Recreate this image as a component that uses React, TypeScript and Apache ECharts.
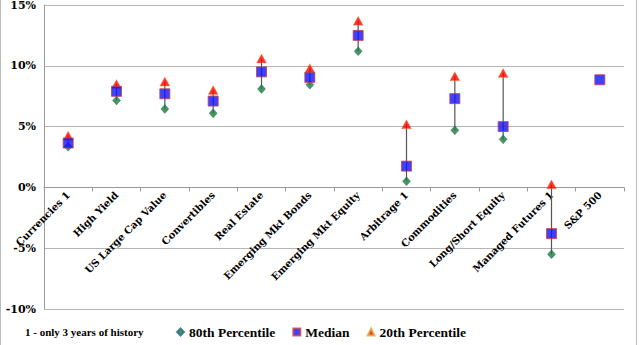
import React, { useEffect, useRef } from "react";
import * as echarts from "echarts";

const categories = [
  "Currencies 1",
  "High Yield",
  "US Large Cap Value",
  "Convertibles",
  "Real Estate",
  "Emerging Mkt Bonds",
  "Emerging Mkt Equity",
  "Arbitrage 1",
  "Commodities",
  "Long/Short Equity",
  "Managed Futures 1",
  "S&P 500",
];
const p80: (number | null)[] = [3.35, 7.15, 6.45, 6.1, 8.1, 8.45, 11.2, 0.5, 4.7, 3.95, -5.5, null];
const median: (number | null)[] = [3.65, 7.9, 7.7, 7.1, 9.5, 9.05, 12.5, 1.75, 7.3, 5.0, -3.8, 8.85];
const p20: (number | null)[] = [4.25, 8.5, 8.7, 8.0, 10.6, 9.8, 13.7, 5.2, 9.15, 9.4, 0.25, null];
const footnote = "1 - only 3 years of history";

const FONT = "DejaVu Serif";
const FONT2 = "Liberation Serif";
const Y_MIN = -10;
const Y_MAX = 15;
const GRID_TOP = 5;
const GRID_BOTTOM = 36;
const H = 345;

export default function App() {
  const ref = useRef<HTMLDivElement>(null);
  useEffect(() => {
    document.body.style.margin = "0";
    const chart = echarts.init(ref.current!, null, { renderer: "svg" });
    const rangeData = categories
      .map((_, i) => [i, p80[i], p20[i]])
      .filter((d) => d[1] != null && d[2] != null);
    const gridH = H - GRID_TOP - GRID_BOTTOM;
    const zeroOffset = -((0 - Y_MIN) / (Y_MAX - Y_MIN)) * gridH;
    chart.setOption({
      animation: false,
      backgroundColor: "#fff",
      textStyle: { fontFamily: FONT },
      grid: { left: 44, right: 16, top: GRID_TOP, bottom: GRID_BOTTOM, containLabel: false, outerBoundsMode: "none" },
      xAxis: {
        type: "category",
        data: categories,
        offset: zeroOffset,
        axisLine: { onZero: false, lineStyle: { color: "#999", width: 1 } },
        axisTick: { show: true, inside: false, length: 4, lineStyle: { color: "#999" }, alignWithLabel: false },
        axisLabel: {
          interval: 0,
          rotate: 45,
          margin: 6,
          color: "#000",
          fontFamily: FONT,
          fontWeight: "bold",
          fontSize: 10,
        },
        splitLine: { show: false },
      },
      yAxis: {
        type: "value",
        min: Y_MIN,
        max: Y_MAX,
        interval: 5,
        axisLine: { show: true, lineStyle: { color: "#999" } },
        axisTick: { show: false },
        axisLabel: {
          formatter: "{value}%",
          color: "#000",
          fontFamily: FONT,
          fontWeight: "bold",
          fontSize: 11,
          margin: 8,
        },
        splitLine: { show: true, lineStyle: { color: "#b5b5b5", width: 1 } },
      },
      legend: {
        left: 176,
        top: 325,
        padding: 0,
        itemWidth: 7,
        itemHeight: 7,
        itemGap: 17,
        textStyle: { fontFamily: FONT2, fontWeight: "bold", fontSize: 13.5, color: "#000" },
        data: ["80th Percentile", "Median", "20th Percentile"],
      },
      graphic: [
        {
          type: "rect",
          shape: { x: 0.5, y: -2, width: 636, height: 350 },
          style: { fill: "none", stroke: "#bbb", lineWidth: 1 },
          silent: true,
        },
        {
          type: "text",
          left: 25,
          top: 326,
          style: {
            text: footnote,
            fontFamily: FONT2,
            fontWeight: "bold",
            fontSize: 11,
            fill: "#000",
          },
        },
      ],
      series: [
        {
          type: "custom",
          name: "range",
          data: rangeData,
          z: 1,
          encode: { x: 0, y: [1, 2] },
          renderItem: (params: any, api: any) => {
            const x = api.value(0);
            const a = api.coord([x, api.value(1)]);
            const b = api.coord([x, api.value(2)]);
            return {
              type: "line",
              shape: { x1: a[0], y1: a[1], x2: b[0], y2: b[1] },
              style: { stroke: "#555", lineWidth: 1.2 },
            };
          },
        },
        {
          type: "scatter",
          name: "80th Percentile",
          data: p80,
          symbol: "diamond",
          symbolSize: [8, 9],
          z: 3,
          itemStyle: { color: "#1a7a35", borderColor: "#2a6a8a", borderWidth: 0.5 },
        },
        {
          type: "scatter",
          name: "Median",
          data: median,
          symbol: "rect",
          symbolSize: 10,
          z: 4,
          itemStyle: { color: "#1010ff", borderColor: "#c04050", borderWidth: 1 },
        },
        {
          type: "scatter",
          name: "20th Percentile",
          data: p20,
          symbol: "triangle",
          symbolSize: [10, 9],
          z: 3,
          itemStyle: { color: "#ff0000", borderColor: "#d8b040", borderWidth: 0.5 },
        },
      ],
    });
    return () => chart.dispose();
  }, []);
  return <div ref={ref} style={{ width: 640, height: 345, position: "absolute", left: 0, top: 0 }} />;
}
